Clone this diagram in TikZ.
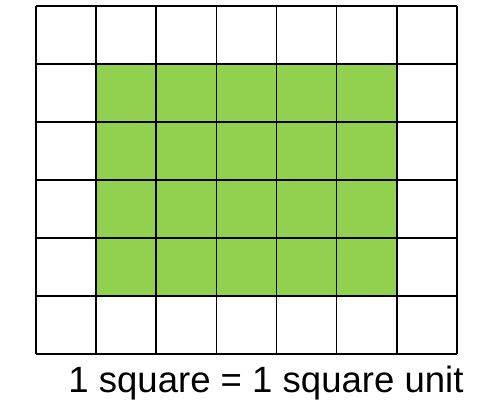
\documentclass[tikz,border=0pt]{standalone}
\usepackage{fontspec}
\setmainfont{Liberation Sans}
\usetikzlibrary{positioning}
\definecolor{cellgreen}{HTML}{92D050}
\tikzset{
	grid line/.style = {black, line width=0.9pt}, % lines of the squares
	unit label/.style = {font=\fontsize{20.8}{25}\selectfont, inner sep=0pt, anchor=base}
}

\begin{document}
\begin{tikzpicture}[x=0.02cm, y=-0.02cm]
            \useasboundingbox (0,0) rectangle (500,400);
            \fill[cellgreen] (96,65) rectangle (396,297);
            \foreach \i in {0,...,7} {
                \draw[grid line] ({36+60.14*\i},6) -- ({36+60.14*\i},354);
            }
            \foreach \j in {0,...,6} {
                \draw[grid line] (36,{6+58*\j}) -- (457,{6+58*\j});
            }
            \node[unit label] (caption) at (266,392) {1 square = 1 square unit};
        \end{tikzpicture}
\end{document}
